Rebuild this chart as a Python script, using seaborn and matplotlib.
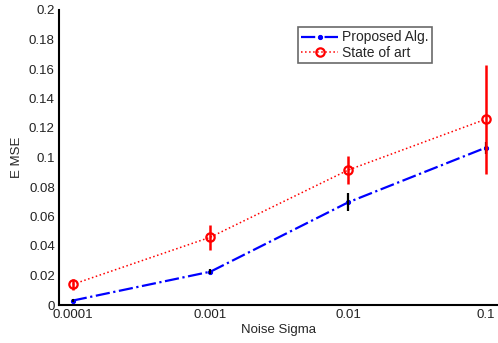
import matplotlib
matplotlib.use("Agg")
import matplotlib.pyplot as plt
import seaborn as sns
import numpy as np
import pandas as pd

sigma_labels = ["0.0001", "0.001", "0.01", "0.1"]
proposed = [0.003, 0.0226, 0.0696, 0.1067]
proposed_err = [0.0012, 0.0017, 0.006, 0.004]
state_art = [0.014, 0.046, 0.0915, 0.126]
state_err = [0.0036, 0.0085, 0.0095, 0.037]

sns.set_style("white")
plt.rcParams['font.family'] = ['Liberation Sans', 'DejaVu Sans']

fig = plt.figure(figsize=(4.98, 3.43), dpi=100)
ax = fig.add_axes([59/498, 38/343, 439/498, 295/343])

xpos = np.arange(1, len(sigma_labels) + 1)
df = pd.DataFrame({"x": np.concatenate([xpos, xpos]),
                   "y": proposed + state_art,
                   "series": ["Proposed Alg."] * 4 + ["State of art"] * 4})

sns.lineplot(data=df[df.series == "Proposed Alg."], x="x", y="y", ax=ax,
             color="blue", linestyle="-.", linewidth=1.6, marker=".",
             markersize=6, markeredgecolor="blue", label="Proposed Alg.", zorder=3)
sns.lineplot(data=df[df.series == "State of art"], x="x", y="y", ax=ax,
             color="red", linestyle=":", linewidth=1.1, marker="o",
             markersize=6, markerfacecolor="none", markeredgecolor="red",
             markeredgewidth=1.6, label="State of art", zorder=3)
ax.errorbar(xpos, proposed, yerr=proposed_err, fmt="none", ecolor="black",
            elinewidth=1.6, capsize=0, zorder=4)
ax.errorbar(xpos, state_art, yerr=state_err, fmt="none", ecolor="red",
            elinewidth=1.8, capsize=0, zorder=5)

ax.set_xlim(0.9, 0.9 + 439/137.7)
ax.set_ylim(0, 0.2)
ax.set_xticks(xpos)
ax.set_xticklabels(sigma_labels)
ax.set_xticks([1.5, 2.5, 3.5], minor=True)
yt = np.arange(0, 0.201, 0.02)
ax.set_yticks(yt)
ax.set_yticklabels(["0"] + [("%.2f" % v).rstrip("0") for v in yt[1:]])
ax.tick_params(axis="both", which="both", direction="in", length=4, width=1.2,
               labelsize=9.5, colors="#222222", pad=3)
ax.tick_params(axis="x", which="minor", length=4, width=1.2)
for s in ["top", "right"]:
    ax.spines[s].set_visible(False)
for s in ["left", "bottom"]:
    ax.spines[s].set_linewidth(1.5)
    ax.spines[s].set_color("black")
ax.set_xlabel("Noise Sigma", fontsize=9.5, labelpad=2)
ax.set_ylabel("E MSE", fontsize=9.5, labelpad=4)

leg = ax.legend(loc="upper left", bbox_to_anchor=(239/439, 1 - 17/295),
                fontsize=10, frameon=True, fancybox=False, edgecolor="#444444",
                borderpad=0.25, labelspacing=0.1, handlelength=2.6,
                handletextpad=0.35, borderaxespad=0)
leg.get_frame().set_linewidth(1.2)

fig.savefig("out.png", dpi=100)
